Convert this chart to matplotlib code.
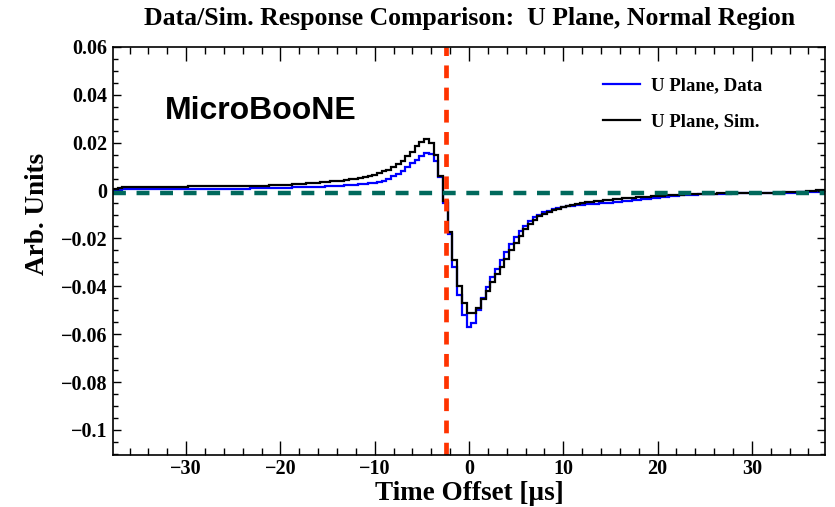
import numpy as np
import matplotlib
matplotlib.use("Agg")
import matplotlib.pyplot as plt
from matplotlib.ticker import FixedLocator, MultipleLocator

# histogram binning: 151 bins of 0.5 us, centred on multiples of 0.5
t_lo = -37.75
t_hi = 37.75
n_bins = 151

# U plane, simulation (black), one value per bin
sim = [
    0.0006, 0.0011, 0.0014, 0.0016, 0.0017, 0.0017, 0.0017, 0.0017, 0.0017, 0.0017,
    0.0017, 0.0017, 0.0017, 0.0017, 0.0017, 0.0017, 0.0018, 0.0018, 0.0018, 0.0018,
    0.0018, 0.0018, 0.0018, 0.0018, 0.0019, 0.0019, 0.0019, 0.0019, 0.0020, 0.0020,
    0.0020, 0.0021, 0.0021, 0.0022, 0.0022, 0.0023, 0.0024, 0.0025, 0.0026, 0.0028,
    0.0029, 0.0030, 0.0031, 0.0033, 0.0034, 0.0036, 0.0038, 0.0040, 0.0042, 0.0044,
    0.0047, 0.0050, 0.0053, 0.0057, 0.0062, 0.0067, 0.0073, 0.0080, 0.0088, 0.0098,
    0.0110, 0.0125, 0.0143, 0.0163, 0.0185, 0.0205, 0.0217, 0.0200, 0.0150, 0.0063,
    -0.0045, -0.0175, -0.0290, -0.0400, -0.0470, -0.0510, -0.0512, -0.0490, -0.0452, -0.0420,
    -0.0382, -0.0347, -0.0318, -0.0285, -0.0250, -0.0217, -0.0188, -0.0162, -0.0140, -0.0122,
    -0.0108, -0.0097, -0.0089, -0.0082, -0.0076, -0.0070, -0.0065, -0.0060, -0.0056, -0.0052,
    -0.0049, -0.0047, -0.0045, -0.0043, -0.0041, -0.0039, -0.0037, -0.0035, -0.0033, -0.0031,
    -0.0030, -0.0028, -0.0027, -0.0025, -0.0024, -0.0022, -0.0021, -0.0020, -0.0019, -0.0018,
    -0.0017, -0.0016, -0.0016, -0.0015, -0.0014, -0.0014, -0.0013, -0.0013, -0.0012, -0.0012,
    -0.0012, -0.0011, -0.0011, -0.0011, -0.0011, -0.0010, -0.0010, -0.0010, -0.0010, -0.0009,
    -0.0009, -0.0009, -0.0008, -0.0008, -0.0007, -0.0006, -0.0005, -0.0003, -0.0001, 0.0001,
    0.0003,
]

# U plane, data (blue)
data = [
    0.0002, 0.0004, 0.0005, 0.0005, 0.0005, 0.0005, 0.0005, 0.0005, 0.0005, 0.0005,
    0.0005, 0.0005, 0.0005, 0.0005, 0.0005, 0.0006, 0.0006, 0.0006, 0.0006, 0.0006,
    0.0006, 0.0006, 0.0007, 0.0007, 0.0007, 0.0007, 0.0008, 0.0008, 0.0008, 0.0009,
    0.0009, 0.0009, 0.0010, 0.0010, 0.0011, 0.0011, 0.0012, 0.0012, 0.0013, 0.0013,
    0.0014, 0.0015, 0.0015, 0.0016, 0.0017, 0.0018, 0.0019, 0.0020, 0.0021, 0.0023,
    0.0024, 0.0025, 0.0027, 0.0028, 0.0030, 0.0032, 0.0035, 0.0041, 0.0049, 0.0059,
    0.0070, 0.0083, 0.0099, 0.0114, 0.0129, 0.0143, 0.0155, 0.0151, 0.0122, 0.0055,
    -0.0050, -0.0180, -0.0320, -0.0435, -0.0520, -0.0570, -0.0552, -0.0500, -0.0450, -0.0402,
    -0.0362, -0.0326, -0.0292, -0.0257, -0.0224, -0.0196, -0.0170, -0.0148, -0.0128, -0.0112,
    -0.0100, -0.0091, -0.0084, -0.0078, -0.0073, -0.0069, -0.0066, -0.0064, -0.0062, -0.0060,
    -0.0058, -0.0057, -0.0055, -0.0054, -0.0052, -0.0050, -0.0048, -0.0046, -0.0044, -0.0042,
    -0.0040, -0.0038, -0.0036, -0.0034, -0.0032, -0.0030, -0.0028, -0.0026, -0.0024, -0.0022,
    -0.0020, -0.0019, -0.0018, -0.0017, -0.0016, -0.0015, -0.0014, -0.0014, -0.0013, -0.0013,
    -0.0013, -0.0012, -0.0012, -0.0012, -0.0011, -0.0011, -0.0011, -0.0011, -0.0010, -0.0010,
    -0.0010, -0.0010, -0.0009, -0.0009, -0.0009, -0.0008, -0.0008, -0.0008, -0.0007, -0.0007,
    -0.0006,
]

t_cut = -2.45      # red vertical dashed line
base_level = -0.001  # green horizontal dashed line

yticks = [-0.1, -0.08, -0.06, -0.04, -0.02, 0, 0.02, 0.04, 0.06]
ylabels = ["\u22120.1", "\u22120.08", "\u22120.06", "\u22120.04", "\u22120.02", "0", "0.02", "0.04", "0.06"]
xticks = [-30, -20, -10, 0, 10, 20, 30]
xlabels = ["\u221230", "\u221220", "\u221210", "0", "10", "20", "30"]

edges = np.linspace(t_lo, t_hi, n_bins + 1)

plt.rcParams["font.family"] = ["Liberation Serif", "DejaVu Serif"]
plt.rcParams["font.weight"] = "bold"

fig = plt.figure(figsize=(8.35, 5.07), dpi=100)
ax = fig.add_axes([113/835, 1-455/507, (825-113)/835, (455-47)/507])

ax.stairs(data, edges, color="#0000ff", lw=1.6, baseline=None, label="U Plane, Data")
ax.stairs(sim, edges, color="black", lw=1.6, baseline=None, label="U Plane, Sim.")

ax.axvline(t_cut, color="#ff3300", lw=3.4, linestyle=(0, (2.7, 2.0)))
ax.axhline(base_level, color="#00695c", lw=3.2, linestyle=(0, (2.9, 2.4)))

ax.set_xlim(t_lo, t_hi)
ax.set_ylim(-0.1105, 0.06)

ax.xaxis.set_major_locator(FixedLocator(xticks))
ax.set_xticklabels(xlabels)
ax.xaxis.set_minor_locator(MultipleLocator(2))
ax.yaxis.set_major_locator(FixedLocator(yticks))
ax.set_yticklabels(ylabels)
ax.yaxis.set_minor_locator(MultipleLocator(0.005))

ax.tick_params(axis="both", which="both", direction="in", top=True, right=True,
               labelsize=14.5, width=1.0)
ax.tick_params(axis="x", which="major", length=10, pad=3)
ax.tick_params(axis="x", which="minor", length=5)
ax.tick_params(axis="y", which="major", length=6, pad=4)
ax.tick_params(axis="y", which="minor", length=3.5)
for lab in ax.get_xticklabels() + ax.get_yticklabels():
    lab.set_fontweight("bold")
for sp in ax.spines.values():
    sp.set_linewidth(1.2)

ax.set_xlabel("Time Offset [\u00b5s]", fontsize=19.5, fontweight="bold", labelpad=1)
ax.set_ylabel("Arb. Units", fontsize=19.5, fontweight="bold")
ax.yaxis.set_label_coords(-0.088, 0.59)

fig.text(470/835, 1-18/507, "Data/Sim. Response Comparison:  U Plane, Normal Region",
         ha="center", va="center", fontsize=18.5, fontweight="bold")

ax.text(0.073, 0.842, "MicroBooNE", transform=ax.transAxes, fontsize=23,
        fontweight="bold", family="Liberation Sans", va="center", ha="left")

leg = ax.legend(loc="upper left", bbox_to_anchor=(0.688, 0.925), frameon=False,
                fontsize=13.5, handlelength=2.0, handletextpad=0.55, labelspacing=1.0,
                borderpad=0, borderaxespad=0)
for txt in leg.get_texts():
    txt.set_fontweight("bold")

fig.savefig("out.png", dpi=100)
